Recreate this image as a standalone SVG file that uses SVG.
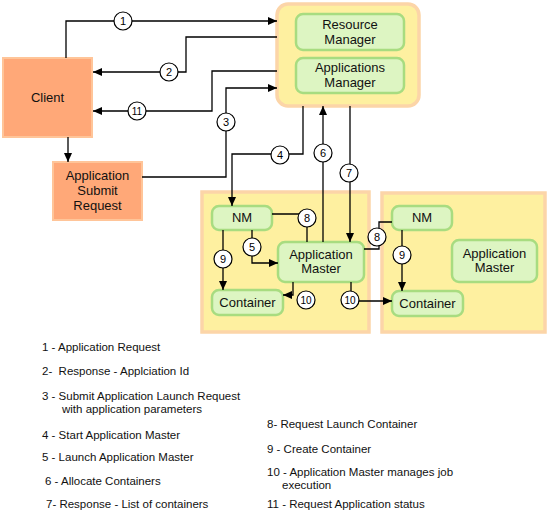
<svg xmlns="http://www.w3.org/2000/svg" width="548" height="518" viewBox="0 0 548 518">
<defs>
<style>
.bg{fill:#fff}
.orange{fill:#FFA878;stroke:#FFC599;stroke-width:2}
.yellow{fill:#FEF0A0;stroke:#FCD5A8;stroke-width:3.5}
.green{fill:#DDF5C2;stroke:#A8DC80;stroke-width:2.5}
.t{font-family:"Liberation Sans",Arial,sans-serif;font-size:13px;fill:#111;text-anchor:middle}
.c circle{fill:#fff;stroke:#000;stroke-width:1.2}
.c text{font-family:"Liberation Sans",Arial,sans-serif;font-size:11px;fill:#000;text-anchor:middle}
.ln{fill:none;stroke:#000;stroke-width:1.3}
.leg{font-family:"Liberation Sans",Arial,sans-serif;font-size:11.5px;fill:#111}
</style>
<marker id="ar" markerUnits="userSpaceOnUse" markerWidth="9" markerHeight="8" refX="9" refY="4" orient="auto">
<path d="M0,0 L9,4 L0,8 z" fill="#000"/>
</marker>
</defs>
<rect class="bg" x="0" y="0" width="548" height="518"/>

<g id="rm-container">
<rect class="yellow" x="277" y="4" width="142" height="102" rx="11"/>
</g>
<g id="resource-manager">
<rect class="green" x="296" y="14" width="108" height="36" rx="7"/>
<text class="t" x="350" y="29">Resource</text>
<text class="t" x="350" y="44">Manager</text>
</g>
<g id="applications-manager">
<rect class="green" x="296" y="58" width="108" height="35" rx="7"/>
<text class="t" x="350" y="72">Applications</text>
<text class="t" x="350" y="87">Manager</text>
</g>

<g id="client">
<rect class="orange" x="3" y="58" width="89" height="79"/>
<text class="t" x="47.5" y="102">Client</text>
</g>
<g id="app-submit">
<rect class="orange" x="53" y="162" width="89" height="58"/>
<text class="t" x="97.5" y="180">Application</text>
<text class="t" x="97.5" y="195">Submit</text>
<text class="t" x="97.5" y="210">Request</text>
</g>

<g id="node1">
<rect class="yellow" x="202" y="192" width="167" height="140"/>
</g>
<g id="nm1">
<rect class="green" x="212" y="206" width="60" height="24" rx="7"/>
<text class="t" x="242" y="222">NM</text>
</g>
<g id="am1">
<rect class="green" x="278" y="242" width="86" height="40" rx="7"/>
<text class="t" x="321" y="259">Application</text>
<text class="t" x="321" y="273">Master</text>
</g>
<g id="container1">
<rect class="green" x="212" y="290" width="71" height="25" rx="7"/>
<text class="t" x="247.5" y="307">Container</text>
</g>

<g id="node2">
<rect class="yellow" x="382" y="193" width="163" height="139"/>
</g>
<g id="nm2">
<rect class="green" x="392" y="206" width="60" height="24" rx="7"/>
<text class="t" x="422" y="222">NM</text>
</g>
<g id="am2">
<rect class="green" x="452" y="240" width="85" height="42" rx="7"/>
<text class="t" x="494.5" y="258">Application</text>
<text class="t" x="494.5" y="272">Master</text>
</g>
<g id="container2">
<rect class="green" x="392" y="291" width="71" height="25" rx="7"/>
<text class="t" x="427.5" y="308">Container</text>
</g>

<g id="connectors">
<path class="ln" d="M66,58 V21 H277" marker-end="url(#ar)"/>
<path class="ln" d="M277,37 H186 V72 H93" marker-end="url(#ar)"/>
<path class="ln" d="M277,71 H212 V111 H93" marker-end="url(#ar)"/>
<path class="ln" d="M142,177 H226 V88 H277" marker-end="url(#ar)"/>
<path class="ln" d="M68,137 V162" marker-end="url(#ar)"/>
<path class="ln" d="M303,106 V154 H232 V206" marker-end="url(#ar)"/>
<path class="ln" d="M323,242 V106" marker-end="url(#ar)"/>
<path class="ln" d="M350,106 V242" marker-end="url(#ar)"/>
<path class="ln" d="M272,214 H307 V242"/>
<path class="ln" d="M252,230 V263 H278" marker-end="url(#ar)"/>
<path class="ln" d="M223,230 V290" marker-end="url(#ar)"/>
<path class="ln" d="M293,282 V295 H283" marker-end="url(#ar)"/>
<path class="ln" d="M351,282 V301 H392" marker-end="url(#ar)"/>
<path class="ln" d="M364,249 H379 V222 H392"/>
<path class="ln" d="M402,230 V291" marker-end="url(#ar)"/>
</g>

<g id="labels" class="c">
<circle cx="123" cy="21" r="9"/><text x="123" y="25">1</text>
<circle cx="169" cy="72" r="9"/><text x="169" y="76">2</text>
<circle cx="137" cy="111" r="9"/><text x="137" y="115" style="font-size:10px">11</text>
<circle cx="226" cy="122" r="9"/><text x="226" y="126">3</text>
<circle cx="280" cy="155" r="9"/><text x="280" y="159">4</text>
<circle cx="323" cy="153" r="9"/><text x="323" y="157">6</text>
<circle cx="349" cy="173" r="9"/><text x="349" y="177">7</text>
<circle cx="307" cy="218" r="9"/><text x="307" y="222">8</text>
<circle cx="252" cy="247" r="9"/><text x="252" y="251">5</text>
<circle cx="223" cy="259" r="9"/><text x="223" y="263">9</text>
<circle cx="306" cy="300" r="9"/><text x="306" y="304" style="font-size:10px">10</text>
<circle cx="350" cy="300" r="9"/><text x="350" y="304" style="font-size:10px">10</text>
<circle cx="377" cy="237" r="9"/><text x="377" y="241">8</text>
<circle cx="402" cy="255" r="9"/><text x="402" y="259">9</text>
</g>

<g id="legend" class="leg">
<text x="42" y="351">1 - Application Request</text>
<text x="42" y="375" xml:space="preserve">2-  Response - Applciation Id</text>
<text x="42" y="400">3 - Submit Application Launch Request</text>
<text x="62" y="413">with application parameters</text>
<text x="42" y="439">4 - Start Application Master</text>
<text x="42" y="461">5 - Launch Application Master</text>
<text x="45" y="485">6 - Allocate Containers</text>
<text x="46" y="508">7- Response - List of containers</text>
<text x="267" y="428">8- Request Launch Container</text>
<text x="267" y="453">9 - Create Container</text>
<text x="267" y="476">10 - Application Master manages job</text>
<text x="282" y="489">execution</text>
<text x="267" y="508">11 - Request Application status</text>
</g>
</svg>
